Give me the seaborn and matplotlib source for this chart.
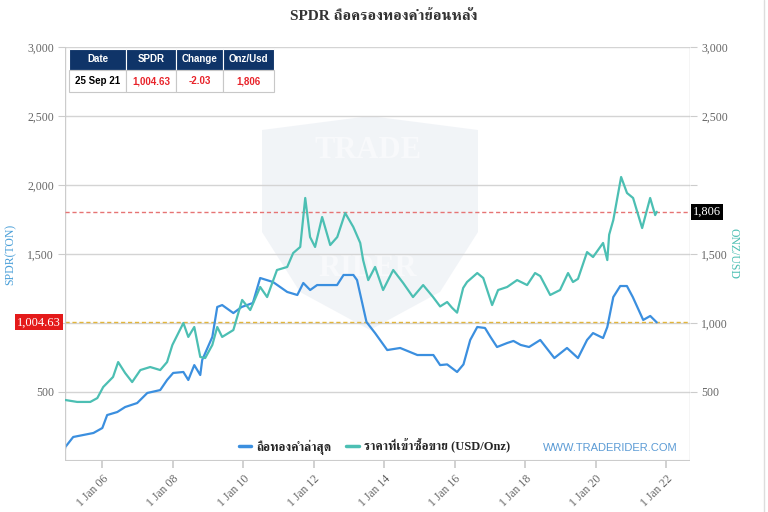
import matplotlib
matplotlib.use("Agg")
import matplotlib.pyplot as plt
import matplotlib.dates as mdates
from matplotlib import font_manager
from matplotlib.ft2font import FT2Font
from matplotlib.lines import Line2D
from matplotlib.patches import Polygon, Rectangle
import pandas as pd
import seaborn as sns

# --- data --------------------------------------------------------------------
gold_dates = [
    "2004-12-13", "2005-04-15", "2005-08-29", "2005-11-10", "2006-01-10", "2006-04-22",
    "2006-06-14", "2006-08-25", "2006-11-06", "2007-01-30", "2007-05-12", "2007-08-24",
    "2007-11-03", "2007-12-28", "2008-04-20", "2008-06-10", "2008-08-11", "2008-10-12",
    "2008-12-02", "2009-02-14", "2009-04-06", "2009-05-27", "2009-09-20", "2009-12-20",
    "2010-03-14", "2010-06-25", "2010-09-05", "2010-12-16", "2011-04-01", "2011-06-02",
    "2011-08-14", "2011-10-05", "2011-11-24", "2012-01-15", "2012-03-28", "2012-06-20",
    "2012-09-01", "2012-11-22", "2013-02-14", "2013-04-27", "2013-05-27", "2013-07-19",
    "2013-09-28", "2013-12-20", "2014-04-04", "2014-07-16", "2014-10-26", "2015-02-08",
    "2015-05-22", "2015-08-03", "2015-10-15", "2015-12-05", "2016-01-26", "2016-03-29",
    "2016-05-08", "2016-08-22", "2016-10-23", "2017-01-23", "2017-03-26", "2017-06-28",
    "2017-10-09", "2018-01-21", "2018-04-13", "2018-06-06", "2018-09-17", "2018-12-28",
    "2019-03-21", "2019-05-11", "2019-07-02", "2019-10-04", "2019-12-05", "2020-03-18",
    "2020-05-01", "2020-05-20", "2020-07-02", "2020-09-21", "2020-11-21", "2021-01-23",
    "2021-04-27", "2021-07-19", "2021-09-09", "2021-09-25",
]
gold_price = [
    442, 428, 428, 456, 536, 609,
    717, 638, 572, 659, 681, 659,
    717, 841, 1000, 899, 971, 754,
    746, 841, 971, 899, 949, 1167,
    1094, 1261, 1188, 1384, 1406, 1507,
    1551, 1906, 1623, 1551, 1768, 1565,
    1623, 1797, 1696, 1580, 1456, 1311,
    1406, 1239, 1384, 1290, 1188, 1275,
    1188, 1120, 1152, 1110, 1075, 1254,
    1297, 1362, 1326, 1130, 1239, 1261,
    1311, 1275, 1362, 1340, 1203, 1239,
    1362, 1297, 1320, 1514, 1478, 1580,
    1456, 1640, 1746, 2058, 1942, 1906,
    1688, 1906, 1782, 1806,
]

spdr_dates = [
    "2004-11-25", "2004-12-13", "2005-03-05", "2005-10-01", "2006-01-01", "2006-02-20",
    "2006-06-05", "2006-08-25", "2006-12-28", "2007-04-12", "2007-08-24", "2007-11-03",
    "2008-01-05", "2008-04-20", "2008-06-10", "2008-08-11", "2008-10-12", "2008-11-01",
    "2009-02-14", "2009-04-06", "2009-05-27", "2009-09-20", "2009-12-15", "2010-04-10",
    "2010-06-25", "2010-11-05", "2011-04-01", "2011-07-15", "2011-09-15", "2011-11-25",
    "2012-02-05", "2012-08-30", "2012-11-05", "2013-02-15", "2013-03-25", "2013-07-01",
    "2013-09-28", "2014-02-01", "2014-06-15", "2014-12-10", "2015-05-25", "2015-08-03",
    "2015-10-15", "2016-01-26", "2016-04-01", "2016-06-10", "2016-08-22", "2016-11-10",
    "2017-01-05", "2017-03-15", "2017-06-28", "2017-09-01", "2017-11-15", "2018-02-10",
    "2018-06-06", "2018-10-30", "2019-03-10", "2019-07-02", "2019-10-04", "2019-12-05",
    "2020-03-18", "2020-05-01", "2020-07-02", "2020-09-12", "2020-11-20", "2021-01-20",
    "2021-05-08", "2021-07-20", "2021-09-25",
]
spdr_tonnes = [
    29, 101, 174, 203, 239, 333,
    355, 391, 420, 493, 514, 587,
    638, 645, 587, 695, 623, 732,
    899, 1116, 1130, 1072, 1116, 1145,
    1326, 1297, 1225, 1203, 1290, 1239,
    1275, 1275, 1348, 1348, 1311, 1007,
    927, 804, 819, 768, 768, 695,
    700, 645, 700, 877, 971, 964,
    900, 826, 855, 870, 841, 826,
    877, 746, 819, 746, 877, 927,
    891, 971, 1188, 1268, 1268, 1188,
    1022, 1051, 1004.63,
]

table_header = ["Date", "SPDR", "Change", "Onz/Usd"]
table_row = ["25 Sep 21", "1,004.63", "-2.03", "1,806"]
last_spdr = 1004.63
last_gold = 1806

spdr_label = "ถือทองคำล่าสุด"
gold_label = "ราคาที่เข้าซื้อขาย (USD/Onz)"
title = "SPDR ถือครองทองคำย้อนหลัง"

BLUE = "#3b8fdf"
TEAL = "#4cbfb3"
NAVY = "#0f3468"
GREY = "#666666"


def thai_family():
    names = []
    for f in font_manager.fontManager.ttflist:
        try:
            if 0x0E16 in FT2Font(f.fname).get_charmap():
                names.append(f.name)
        except Exception:
            pass
    for n in names:
        if "Serif" in n:
            return n
    return names[0] if names else "DejaVu Sans"


sns.set_theme(style="white")
THAI = thai_family()
plt.rcParams["font.family"] = ["Liberation Serif", THAI, "DejaVu Sans"]

W, H = 768, 512


def fx(px):
    return px / W


def fy(py):
    return 1 - py / H


gold = pd.DataFrame({"date": pd.to_datetime(gold_dates), "value": gold_price})
spdr = pd.DataFrame({"date": pd.to_datetime(spdr_dates), "value": spdr_tonnes})

fig = plt.figure(figsize=(7.68, 5.12), dpi=100)
ax = fig.add_axes([fx(65), fy(461), fx(690) - fx(65), fy(47) - fy(461)])
ax2 = ax.twinx()

# faint watermark shield, behind everything
shield = [(262, 130), (370, 116), (478, 130), (478, 232), (440, 292),
          (370, 330), (300, 292), (262, 232)]
fig.add_artist(Polygon([(fx(x), fy(y)) for x, y in shield], closed=True,
                       facecolor="#e9edf3", edgecolor="none", alpha=0.6,
                       transform=fig.transFigure, zorder=-2))
fig.text(fx(368), fy(150), "TRADE", ha="center", va="center", fontsize=22,
         fontweight="bold", color="#f8f9fb", zorder=-1)
fig.text(fx(368), fy(268), "RIDER", ha="center", va="center", fontsize=22,
         fontweight="bold", color="#f8f9fb", zorder=-1)
ax.patch.set_alpha(0)
ax2.patch.set_alpha(0)
fig.patch.set_facecolor("white")

sns.lineplot(data=spdr, x="date", y="value", ax=ax, color=BLUE, linewidth=1.6,
             legend=False)
sns.lineplot(data=gold, x="date", y="value", ax=ax2, color=TEAL, linewidth=1.6,
             legend=False)

for a in (ax, ax2):
    a.set_ylim(0, 3000)
    a.set_xlim(pd.Timestamp("2004-12-10"), pd.Timestamp("2022-09-05"))
    a.set_xlabel("")
    for s in a.spines.values():
        s.set_visible(False)

ax.axhline(last_spdr, color="#e2b53c", linestyle=(0, (3, 2)), linewidth=1.0, zorder=1)
ax2.axhline(last_gold, color="#e67474", linestyle=(0, (3, 2)), linewidth=1.0, zorder=1)

ax.set_yticks([500, 1000, 1500, 2000, 2500, 3000])
ax.set_yticklabels(["500", "", "1,500", "2,000", "2,500", "3,000"])
ax2.set_yticks([500, 1000, 1500, 2000, 2500, 3000])
ax2.set_yticklabels(["500", "1,000", "1,500", "", "2,500", "3,000"])
ax.yaxis.grid(True, color="#d4d4d4", linewidth=1.0)
ax.set_axisbelow(True)
for a in (ax, ax2):
    a.tick_params(axis="y", length=5, width=0.8, color="#cccccc", labelsize=8.5,
                  labelcolor=GREY, pad=3)
ax.axvline(ax.get_xlim()[0], color="#cccccc", linewidth=1.0)
ax.axvline(ax.get_xlim()[1], color="#cccccc", linewidth=1.0)
ax.axhline(0, color="#cccccc", linewidth=1.5)

ax.xaxis.set_major_locator(mdates.YearLocator(2))
ax.xaxis.set_major_formatter(mdates.DateFormatter("1 Jan %y"))
ax.tick_params(axis="x", length=5, color="#cccccc", labelsize=8.5,
               labelcolor=GREY, bottom=True)
for lab in ax.get_xticklabels():
    lab.set_rotation(45)
    lab.set_ha("right")
    lab.set_rotation_mode("anchor")
ax2.tick_params(axis="x", bottom=False, labelbottom=False)

ax.set_ylabel("SPDR(TON)", color="#4a9fd8", fontsize=8.5)
ax.yaxis.set_label_coords(-0.077, 0.5)
ax2.set_ylabel("ONZ/USD", color=TEAL, fontsize=8.5, rotation=270, va="center")
ax2.yaxis.set_label_coords(1.07, 0.5)

# value flags on the axes
ax.annotate(f"{last_spdr:,.2f}", xy=(0, last_spdr), xycoords=("axes fraction", "data"),
            xytext=(-3, 0), textcoords="offset points", ha="right", va="center",
            fontsize=9, color="white",
            bbox=dict(boxstyle="square,pad=0.15", fc="#e41a1a", ec="none"))
ax2.annotate(f"{last_gold:,}", xy=(1, last_gold), xycoords=("axes fraction", "data"),
             xytext=(2, 0), textcoords="offset points", ha="left", va="center",
             fontsize=9, color="white",
             bbox=dict(boxstyle="square,pad=0.15", fc="black", ec="none"))

fig.text(0.5, fy(17), title, ha="center", va="center", fontsize=11,
         fontweight="bold", color="#333333")

handles = [Line2D([], [], color=BLUE, lw=2.5), Line2D([], [], color=TEAL, lw=2.5)]
ax2.legend(handles, [spdr_label, gold_label], loc="lower center",
           bbox_to_anchor=(0.495, -0.012), ncol=2, frameon=False,
           handlelength=1.0, handletextpad=0.4, columnspacing=1.2,
           prop={"weight": "bold", "size": 9})

fig.text(fx(610), fy(448), "WWW.TRADERIDER.COM", ha="center", va="center",
         fontsize=8, color="#5b9bd5", family="Liberation Sans")

# summary table top-left
cols = [69, 126, 176, 223, 274]
rows = [49, 70, 92]
for i in range(4):
    x0, x1 = cols[i], cols[i + 1]
    fig.add_artist(Rectangle((fx(x0), fy(rows[1])), fx(x1) - fx(x0), fy(rows[0]) - fy(rows[1]),
                             transform=fig.transFigure, fc=NAVY, ec="white", lw=0.8, zorder=5))
    fig.add_artist(Rectangle((fx(x0), fy(rows[2])), fx(x1) - fx(x0), fy(rows[1]) - fy(rows[2]),
                             transform=fig.transFigure, fc="white", ec="#c8c8c8", lw=0.8, zorder=5))
    cx = fx((x0 + x1) / 2)
    fig.text(cx, fy((rows[0] + rows[1]) / 2), table_header[i], ha="center", va="center",
             fontsize=7, fontweight="bold", color="white", family="Liberation Sans", zorder=6)
    fig.text(cx, fy((rows[1] + rows[2]) / 2), table_row[i], ha="center", va="center",
             fontsize=7, fontweight="bold", color="black" if i == 0 else "#e8232a",
             family="Liberation Sans", zorder=6)

fig.add_artist(Line2D([fx(764), fx(764)], [0, 1], color="#dddddd", lw=1.0,
                      transform=fig.transFigure))

fig.savefig("out.png", dpi=100, facecolor="white")
